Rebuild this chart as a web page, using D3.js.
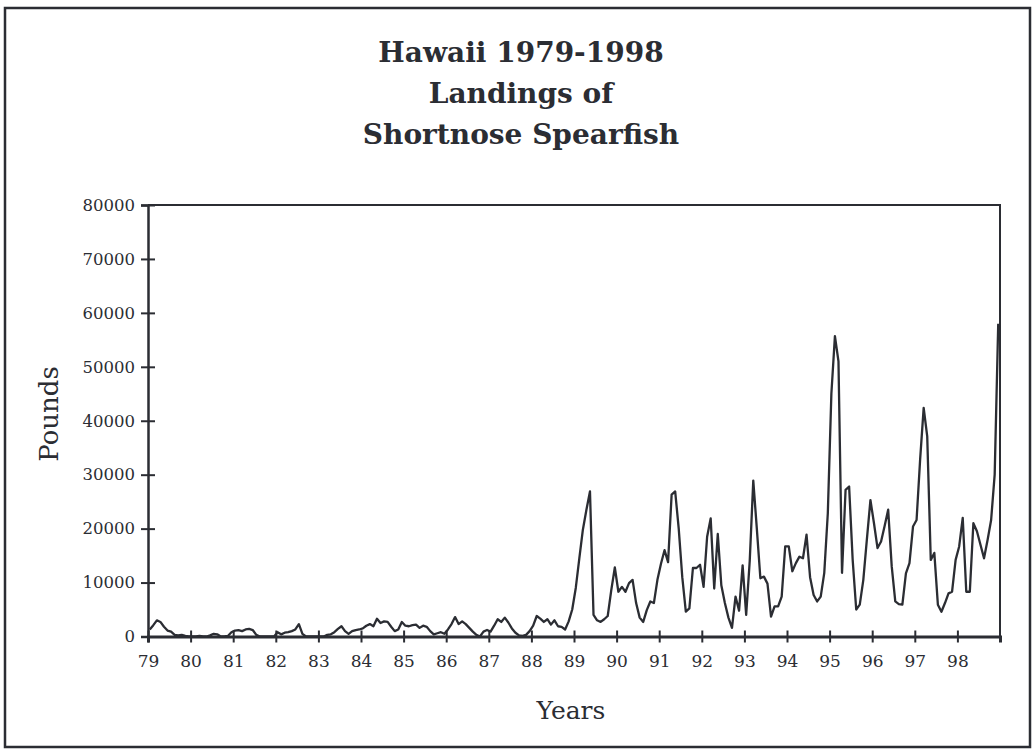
<!DOCTYPE html>
<html><head><meta charset="utf-8">
<script src="https://cdn.jsdelivr.net/npm/d3@7"></script>
<style>body{margin:0;background:#fff}svg{display:block}</style>
</head><body>
<svg id="c" width="1033" height="753"></svg>
<script>
const titleLines = ["Hawaii 1979-1998", "Landings of", "Shortnose Spearfish"];
const yLabel = "Pounds";
const xLabel = "Years";
const yearLabels = ["79","80","81","82","83","84","85","86","87","88","89","90","91","92","93","94","95","96","97","98"];
const yTicks = [0,10000,20000,30000,40000,50000,60000,70000,80000];

// Monthly landings (pounds), one array per year
const y1979 = [1300,2100,3000,2700,1800,1100,900,300,200,300,100,0];
const y1980 = [0,0,100,0,0,200,500,400,0,0,100,800];
const y1981 = [1100,1200,1000,1300,1400,1200,300,0,0,0,0,0];
const y1982 = [800,400,700,800,1000,1300,2300,500,0,0,0,0];
const y1983 = [0,0,300,400,800,1400,1900,1000,500,1000,1200,1300];
const y1984 = [1500,2000,2300,1900,3300,2500,2800,2700,1800,1000,1300,2700];
const y1985 = [2000,1900,2100,2200,1600,2000,1800,1000,400,600,800,500];
const y1986 = [1300,2300,3600,2300,2800,2300,1600,900,300,0,900,1200];
const y1987 = [900,2000,3200,2700,3500,2600,1500,700,200,100,300,1000];
const y1988 = [2000,3800,3300,2700,3200,2200,3000,1900,1800,1300,2800,5000];
const y1989 = [9000,14500,19800,23500,26900,4000,3000,2700,3200,3800,8600,12800];
const y1990 = [8300,9200,8300,9900,10500,6200,3500,2700,4900,6500,6200,10500];
const y1991 = [13500,16000,13800,26300,26900,20000,11000,4600,5200,12700,12700,13300];
const y1992 = [9200,18500,21900,8900,19000,9500,6200,3500,1600,7400,4800,13200];
const y1993 = [4000,14000,28900,20000,10800,11100,9800,3700,5600,5600,7400,16700];
const y1994 = [16700,12100,13600,14800,14500,18900,11000,7700,6500,7400,11800,22900];
const y1995 = [45000,55700,51000,11800,27200,27800,14200,5000,5900,10500,18000,25300];
const y1996 = [21000,16400,17600,20500,23500,13000,6500,6000,5900,11700,13600,20400];
const y1997 = [21600,32800,42400,37100,14200,15500,5900,4600,6200,8000,8300,14200];
const y1998 = [16700,22000,8300,8300,21000,19500,17000,14500,17900,21600,30000,58000];

const monthly = [].concat(y1979,y1980,y1981,y1982,y1983,y1984,y1985,y1986,y1987,y1988,
  y1989,y1990,y1991,y1992,y1993,y1994,y1995,y1996,y1997,y1998);

const svg = d3.select("#c");
const ink = "#2b2d33";
const serif = "'DejaVu Serif', serif";

// outer frame
svg.append("rect").attr("x",5).attr("y",8).attr("width",1025).attr("height",739)
  .attr("fill","none").attr("stroke",ink).attr("stroke-width",2.5);

// title
svg.append("g").selectAll("text").data(titleLines).join("text")
  .attr("x",521).attr("y",(d,i)=>62+i*41)
  .attr("text-anchor","middle")
  .attr("font-family",serif).attr("font-weight","bold").attr("font-size",28)
  .attr("fill",ink).text(d=>d);

const L=148, R=1000, T=205, B=636.5;
const x = d3.scaleBand().domain(d3.range(monthly.length)).range([L,R]);
const y = d3.scaleLinear().domain([0,80000]).range([B,T]);
const cx = i => x(i) + x.bandwidth()/2;

// plot box (top + right)
svg.append("path").attr("d",`M${L},${T}H${R}V${B}`).attr("fill","none")
  .attr("stroke",ink).attr("stroke-width",2);

// y axis
const yAxis = d3.axisLeft(y).tickValues(yTicks).tickFormat(d3.format("d")).tickSize(7).tickPadding(5);
const gy = svg.append("g").attr("transform",`translate(${L},0)`).call(yAxis);
gy.select(".domain").attr("stroke",ink).attr("stroke-width",2.5);
gy.selectAll(".tick line").attr("stroke",ink).attr("stroke-width",2).attr("x2",-7).attr("x1",7);
gy.selectAll(".tick text").attr("font-family",serif).attr("font-size",16.5).attr("fill",ink).attr("x",-13);

// x axis
const tickIdx = d3.range(0, monthly.length, 12);
const xTickScale = d3.scaleOrdinal().domain(tickIdx).range(yearLabels);
const xAxis = d3.axisBottom(d3.scaleLinear().domain([0,monthly.length]).range([L,R]))
  .tickValues(tickIdx).tickFormat(d=>xTickScale(d)).tickSize(6).tickPadding(12);
const gx = svg.append("g").attr("transform",`translate(0,${B})`).call(xAxis);
gx.select(".domain").attr("stroke",ink).attr("stroke-width",3);
gx.selectAll(".tick line").attr("stroke",ink).attr("stroke-width",2).attr("y1",-6).attr("y2",6);
gx.selectAll(".tick text").attr("font-family",serif).attr("font-size",17).attr("fill",ink);

// data line
const line = d3.line().x((d,i)=>cx(i)).y(d=>y(d));
svg.append("path").datum(monthly).attr("d",line).attr("fill","none")
  .attr("stroke",ink).attr("stroke-width",2.3).attr("stroke-linejoin","round");

// axis titles
svg.append("text").attr("transform","translate(58,414) rotate(-90)")
  .attr("text-anchor","middle").attr("font-family",serif).attr("font-size",26)
  .attr("fill",ink).text(yLabel);
svg.append("text").attr("x",571).attr("y",719).attr("text-anchor","middle")
  .attr("font-family",serif).attr("font-size",25).attr("fill",ink).text(xLabel);
</script>
</body></html>
